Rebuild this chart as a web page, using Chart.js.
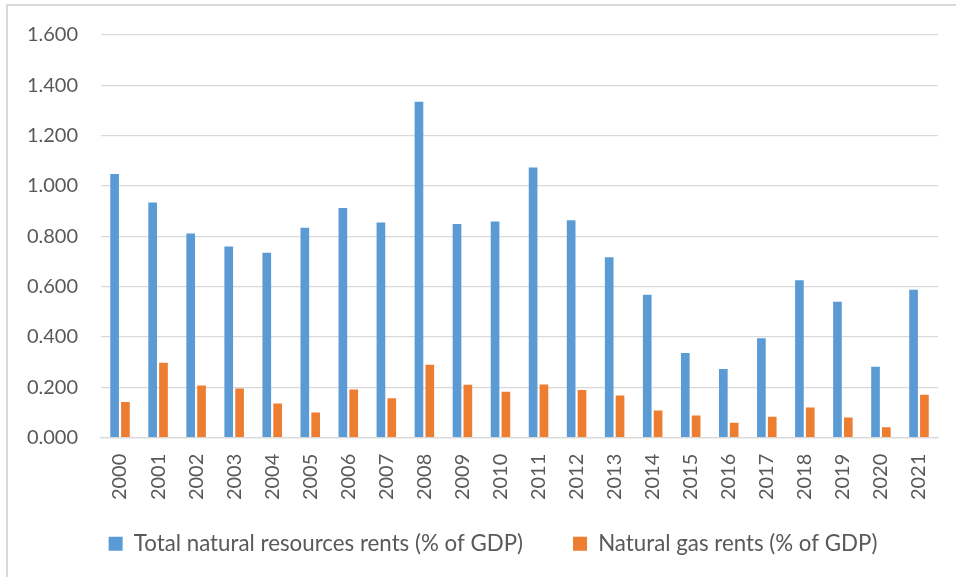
<!DOCTYPE html>
<html>
<head>
<meta charset="utf-8">
<script src="https://cdn.jsdelivr.net/npm/chart.js@4/dist/chart.umd.min.js"></script>
<style>
  body { margin: 0; background: #fff; }
  #frame { position: absolute; left: 6px; top: 4px; width: 1000px; height: 700px; border: 2px solid #D9D9D9; box-sizing: border-box; }
  #wrap { position: absolute; left: 0; top: 0; width: 956px; height: 577px; }
</style>
</head>
<body>
<div id="frame"></div>
<div id="wrap"><canvas id="chart"></canvas></div>
<script>
var years = ['2000','2001','2002','2003','2004','2005','2006','2007','2008','2009','2010',
             '2011','2012','2013','2014','2015','2016','2017','2018','2019','2020','2021'];
var totalRents = [1.048, 0.934, 0.811, 0.760, 0.735, 0.834, 0.913, 0.855, 1.335, 0.849, 0.859,
                  1.074, 0.864, 0.717, 0.568, 0.337, 0.273, 0.395, 0.626, 0.540, 0.282, 0.588];
var gasRents = [0.142, 0.298, 0.207, 0.195, 0.136, 0.100, 0.192, 0.157, 0.290, 0.210, 0.183,
                0.211, 0.190, 0.168, 0.108, 0.088, 0.059, 0.083, 0.120, 0.080, 0.042, 0.171];
var yTicks = [0, 0.2, 0.4, 0.6, 0.8, 1.0, 1.2, 1.4, 1.6];

Chart.defaults.font.family = 'Lato, "Open Sans", sans-serif';
Chart.defaults.color = '#595959';

// legend sits right of centre and the wide item padding pushes it down, so nudge it
var moveLegend = {
  id: 'moveLegend',
  afterLayout: function (chart) {
    var lg = chart.legend;
    lg.left += 24; lg.right += 24;
    lg.top -= 35; lg.bottom -= 35;
  }
};

var ctx = document.getElementById('chart').getContext('2d');
var chart = new Chart(ctx, {
  type: 'bar',
  data: {
    labels: years,
    datasets: [{
      label: 'Total natural resources rents (% of GDP)',
      data: totalRents,
      backgroundColor: '#5B9BD5'
    }, {
      label: 'Natural gas rents (% of GDP)',
      data: gasRents,
      backgroundColor: '#ED7D31'
    }]
  },
  options: {
    responsive: true,
    maintainAspectRatio: false,
    animation: false,
    categoryPercentage: 0.57,
    barPercentage: 0.8,
    layout: { padding: { left: 0, right: 18, top: 34, bottom: -23 } },
    scales: {
      x: {
        grid: { display: false },
        border: { color: '#D9D9D9', width: 1.3 },
        ticks: { minRotation: 90, maxRotation: 90, padding: 8, font: { size: 20 } },
        afterFit: function (scale) { scale.height = 80; }
      },
      y: {
        min: 0,
        max: 1.6,
        afterBuildTicks: function (scale) {
          scale.ticks = yTicks.map(function (v) { return { value: v }; });
        },
        grid: { color: '#D9D9D9', lineWidth: 1.3, drawTicks: false },
        border: { display: false },
        ticks: {
          padding: 23,
          font: { size: 20 },
          callback: function (v) { return Number(v).toFixed(3); }
        },
        afterFit: function (scale) { scale.width = 101; }
      }
    },
    plugins: {
      tooltip: { enabled: false },
      legend: {
        position: 'bottom',
        labels: { boxWidth: 14, boxHeight: 14, padding: 50, font: { size: 22.3 } }
      }
    }
  },
  plugins: [moveLegend]
});
</script>
</body>
</html>
